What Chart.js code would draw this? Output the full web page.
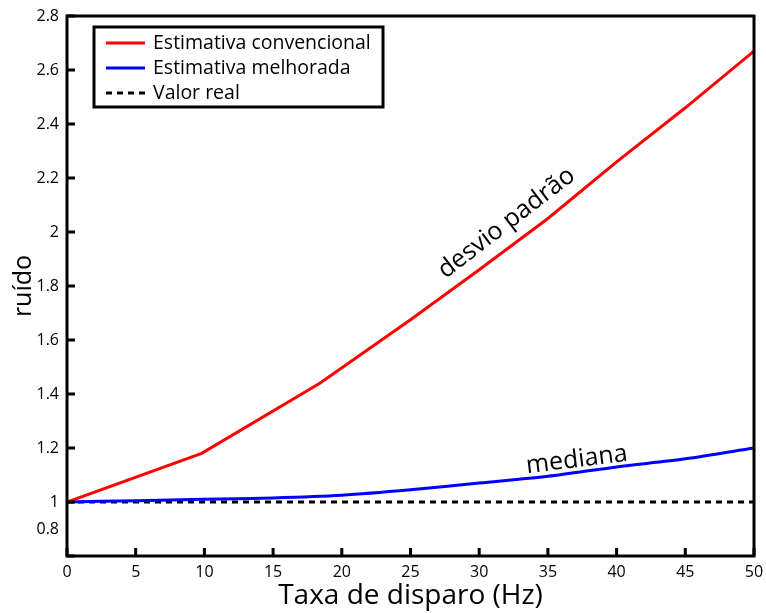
<!DOCTYPE html>
<html>
<head>
<meta charset="utf-8">
<script src="https://cdn.jsdelivr.net/npm/chart.js@4/dist/chart.umd.min.js"></script>
<style>
  html, body { margin: 0; padding: 0; background: #fff; }
  canvas { display: block; }
</style>
</head>
<body>
<canvas id="c" width="766" height="613"></canvas>
<script>
// Noise estimate versus firing rate
const seriesLabels = ['Estimativa convencional', 'Estimativa melhorada', 'Valor real'];

const convX = [0, 9.8, 18.4, 25, 30, 35, 40, 45, 50];
const convY = [1.0, 1.18, 1.44, 1.675, 1.86, 2.05, 2.26, 2.46, 2.67];

const medX = [0, 5, 10, 15, 20, 25, 30, 35, 40, 45, 50];
const medY = [1.0, 1.005, 1.01, 1.015, 1.025, 1.045, 1.07, 1.095, 1.13, 1.16, 1.2];

const trueX = [0, 50];
const trueY = [1.0, 1.0];

const xTitle = 'Taxa de disparo (Hz)';
const yTitle = 'ruído';
const annotations = [
  { text: 'desvio padrão', x: 32.0, y: 2.033, angle: -37.5 },
  { text: 'mediana', x: 37.1, y: 1.156, angle: -7 }
];

const FONT = '"Open Sans", "Noto Sans", sans-serif';
const pts = (xs, ys) => xs.map((x, i) => ({ x, y: ys[i] }));

// Frame, inward tick marks, shifted lowest y label, curve labels and boxed legend
const decorPlugin = {
  id: 'decor',
  afterDraw(chart) {
    const ctx = chart.ctx;
    const a = chart.chartArea;
    const xs = chart.scales.x, ys = chart.scales.y;
    ctx.save();

    // tick marks pointing into the plot
    ctx.strokeStyle = '#000';
    ctx.lineWidth = 3;
    ctx.beginPath();
    xs.ticks.forEach(t => {
      const px = xs.getPixelForValue(t.value);
      ctx.moveTo(px, a.bottom);
      ctx.lineTo(px, a.bottom - 8);
    });
    ys.ticks.forEach(t => {
      const py = ys.getPixelForValue(t.value);
      ctx.moveTo(a.left, py);
      ctx.lineTo(a.left + 8, py);
    });
    ctx.stroke();

    // plot frame
    ctx.lineWidth = 3;
    ctx.strokeRect(a.left, a.top, a.right - a.left, a.bottom - a.top);

    // lowest y label, lifted off the x axis
    ctx.fillStyle = '#000';
    ctx.font = '16px ' + FONT;
    ctx.textAlign = 'right';
    ctx.textBaseline = 'middle';
    ctx.fillText('0.8', a.left - 8, ys.getPixelForValue(0.9));

    // curve labels
    ctx.font = '25px ' + FONT;
    ctx.textAlign = 'center';
    ctx.textBaseline = 'middle';
    annotations.forEach(an => {
      ctx.save();
      ctx.translate(xs.getPixelForValue(an.x), ys.getPixelForValue(an.y));
      ctx.rotate(an.angle * Math.PI / 180);
      ctx.fillText(an.text, 0, 0);
      ctx.restore();
    });

    // legend
    const lx = a.left + 27, ly = a.top + 11, lw = 289, lh = 80;
    ctx.fillStyle = '#fff';
    ctx.fillRect(lx, ly, lw, lh);
    ctx.lineWidth = 3;
    ctx.strokeStyle = '#000';
    ctx.strokeRect(lx, ly, lw, lh);
    ctx.font = '19.5px ' + FONT;
    ctx.textAlign = 'left';
    ctx.textBaseline = 'middle';
    chart.data.datasets.forEach((ds, i) => {
      const ry = ly + 16 + i * 25;
      ctx.beginPath();
      ctx.strokeStyle = ds.borderColor;
      ctx.lineWidth = 3;
      ctx.setLineDash(ds.borderDash || []);
      ctx.moveTo(lx + 12, ry);
      ctx.lineTo(lx + 51, ry);
      ctx.stroke();
      ctx.setLineDash([]);
      ctx.fillStyle = '#000';
      ctx.fillText(ds.label, lx + 59, ry);
    });

    ctx.restore();
  }
};

new Chart(document.getElementById('c'), {
  type: 'line',
  data: {
    datasets: [
      { label: seriesLabels[0], data: pts(convX, convY), borderColor: '#ff0000', borderWidth: 3, pointRadius: 0, tension: 0, fill: false },
      { label: seriesLabels[1], data: pts(medX, medY), borderColor: '#0000ff', borderWidth: 3, pointRadius: 0, tension: 0.3, fill: false },
      { label: seriesLabels[2], data: pts(trueX, trueY), borderColor: '#000000', borderWidth: 3, borderDash: [6, 5], pointRadius: 0, fill: false }
    ]
  },
  options: {
    responsive: false,
    devicePixelRatio: 1,
    animation: false,
    layout: { padding: { top: 16, right: 12, left: 0, bottom: 0 } },
    plugins: { legend: { display: false }, tooltip: { enabled: false } },
    scales: {
      x: {
        type: 'linear', min: 0, max: 50,
        grid: { display: false, drawTicks: false },
        border: { display: false },
        ticks: { stepSize: 5, color: '#000', font: { family: FONT, size: 16 }, padding: 7, maxRotation: 0 },
        title: { display: true, text: xTitle, color: '#000', font: { family: FONT, size: 28 }, padding: { top: 0, bottom: 0 } },
        afterFit(s) { s.height = 57; s.paddingLeft = 0; s.paddingRight = 0; }
      },
      y: {
        type: 'linear', min: 0.8, max: 2.8,
        grid: { display: false, drawTicks: false },
        border: { display: false },
        ticks: {
          stepSize: 0.2, color: '#000', font: { family: FONT, size: 16 }, padding: 8,
          callback(v) {
            const r = Math.round(v * 10) / 10;
            return r === 0.8 ? '' : String(r);
          }
        },
        title: { display: true, text: yTitle, color: '#000', font: { family: FONT, size: 25 }, padding: { top: 9, bottom: 0 } },
        afterFit(s) { s.width = 67; s.paddingTop = 0; s.paddingBottom = 0; }
      }
    }
  },
  plugins: [decorPlugin]
});
</script>
</body>
</html>
